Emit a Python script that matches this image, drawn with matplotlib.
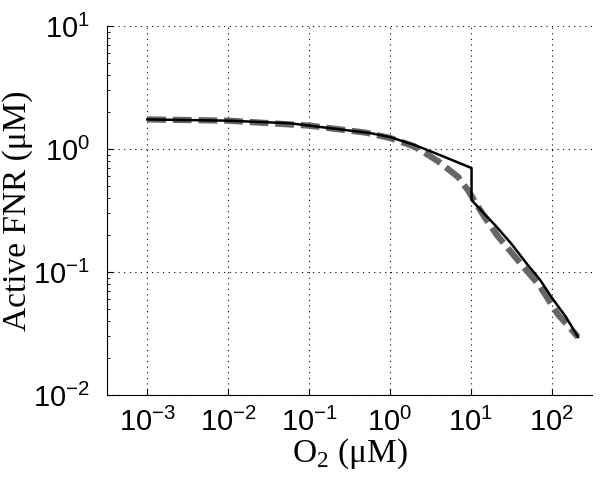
import numpy as np
import matplotlib.pyplot as plt

# O2 (uM) vs active FNR (uM)
o2_model = [1e-3, 1e-2, 0.058, 0.1, 0.56, 1, 2, 4.2, 10.2, 10.2, 14.5, 20, 31.6, 50, 72, 100, 150, 211]
fnr_model = [1.74, 1.70, 1.62, 1.55, 1.35, 1.25, 1.08, 0.89, 0.70, 0.385, 0.30, 0.24, 0.17, 0.115, 0.086, 0.062, 0.043, 0.0296]

o2_approx = [1e-3, 1e-2, 0.1, 0.5, 1, 2, 4, 7, 9.25, 14.5, 21, 40, 70, 120, 211]
fnr_approx = [1.74, 1.70, 1.55, 1.36, 1.23, 1.05, 0.79, 0.59, 0.46, 0.285, 0.20, 0.12, 0.078, 0.045, 0.0296]

plt.rcParams['font.family'] = ['Liberation Sans', 'DejaVu Sans']
plt.rcParams['mathtext.fontset'] = 'custom'
plt.rcParams['mathtext.rm'] = 'Liberation Sans'
plt.rcParams['mathtext.it'] = 'Liberation Sans:italic'

fig = plt.figure(figsize=(6, 4.91), dpi=100)
ax = fig.add_axes([0.178, 0.1955, 0.809, 0.7515])

ax.plot(o2_approx, fnr_approx, color='#666666', linewidth=4.5, linestyle=(0, (3, 1.1)))
ax.plot(o2_model, fnr_model, color='black', linewidth=1.8)

ax.set_xscale('log')
ax.set_yscale('log')
ax.set_xlim(10**-3.5, 10**2.5)
ax.set_ylim(1e-2, 1e1)
ax.set_xticks([1e-3, 1e-2, 1e-1, 1e0, 1e1, 1e2])
ax.set_yticks([1e-2, 1e-1, 1e0, 1e1])

ax.grid(True, which='major', linestyle=(0, (1, 4)), color='black', linewidth=0.8)
ax.spines['top'].set_visible(False)
ax.spines['right'].set_visible(False)
ax.tick_params(which='both', direction='in', labelsize=21)
ax.tick_params(which='major', length=4, width=0.8)
ax.tick_params(which='minor', length=2, width=0.6)
ax.tick_params(axis='x', pad=9)
ax.tick_params(axis='y', pad=12)

ax.set_xlabel('O$_\\mathregular{2}$ (μM)', fontfamily='Liberation Serif', fontsize=24, labelpad=0)
ax.set_ylabel('Active FNR (μM)', fontfamily='Liberation Serif', fontsize=24, labelpad=0)

fig.savefig('out.png', dpi=100)
